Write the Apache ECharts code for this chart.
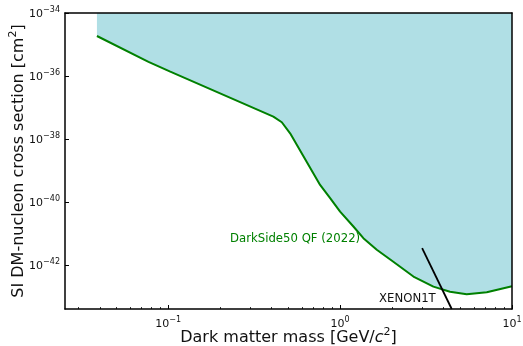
<!DOCTYPE html>
<html>
<head>
<meta charset="utf-8">
<script src="https://cdn.jsdelivr.net/npm/echarts@6/dist/echarts.min.js"></script>
<style>
  html, body { margin: 0; padding: 0; background: #ffffff; }
  #chart { width: 523px; height: 346px; }
</style>
</head>
<body>
<div id="chart"></div>
<script>
// DarkSide-50 spin-independent limit (QF), mass in GeV/c^2, cross section in cm^2
const dsMass  = [0.0385, 0.0768, 0.1028, 0.409, 0.458, 0.512, 0.765, 0.875, 1.0, 1.195, 1.366, 1.634, 2.04, 2.67, 3.49, 4.36, 5.45, 7.13, 10];
const dsSigma = [1.86e-35, 2.82e-36, 1.38e-36, 5.13e-38, 3.39e-38, 1.51e-38, 3.47e-40, 1.32e-40, 4.9e-41, 1.66e-41, 7.08e-42, 3.02e-42, 1.26e-42, 4.27e-43, 2.04e-43, 1.41e-43, 1.17e-43, 1.35e-43, 2.1e-43];

// XENON1T limit segment
const xeMass  = [3.0, 4.46];
const xeSigma = [3.39e-42, 3.98e-44];

// Axis ranges and ticks (cross sections handled as decades, log10 of cm^2)
const xRange = [0.0251, 10];
const yDecadeRange = [-43.4, -34];
const xMajorTicks = [0.1, 1, 10];
const xMinorTicks = [0.03, 0.04, 0.05, 0.06, 0.07, 0.08, 0.09,
                     0.2, 0.3, 0.4, 0.5, 0.6, 0.7, 0.8, 0.9,
                     2, 3, 4, 5, 6, 7, 8, 9];
const yMajorDecades = [-42, -40, -38, -36, -34];

// Curve annotations: [mass, cross section, text]
const dsLabel = [0.229, 6.8e-42, 'DarkSide50 QF (2022)'];
const xeLabel = [3.6, 8.3e-44, 'XENON1T'];

const FONT = 'DejaVu Sans';
const INK = '#111111';

// cross sections spread over ten decades: place them on a decade (log10) value axis
function toPoints(xs, ys) { return xs.map((x, i) => [x, Math.log10(ys[i])]); }

function supLabel(e) {
  return '{b|10}{e|' + (e < 0 ? '\u2212' + (-e) : String(e)) + '}';
}
const powRich = {
  b: { fontFamily: FONT, fontSize: 11, color: INK, lineHeight: 14, verticalAlign: 'bottom' },
  e: { fontFamily: FONT, fontSize: 8, color: INK, lineHeight: 9, verticalAlign: 'top' }
};
const titleRich = {
  n: { fontFamily: FONT, fontSize: 16, color: INK, lineHeight: 19, verticalAlign: 'bottom' },
  i: { fontFamily: FONT, fontSize: 16, fontStyle: 'italic', color: INK, lineHeight: 19, verticalAlign: 'bottom' },
  s: { fontFamily: FONT, fontSize: 11, color: INK, lineHeight: 12, verticalAlign: 'top' }
};

const spine = { show: true, lineStyle: { color: '#000', width: 1.5 } };
const noSplit = { show: false };

const chart = echarts.init(document.getElementById('chart'), null, { renderer: 'canvas' });
chart.setOption({
  animation: false,
  backgroundColor: '#ffffff',
  grid: { left: 65, right: 11, top: 13, bottom: 37, containLabel: false, outerBoundsMode: 'none' },
  xAxis: [
    {
      type: 'log', min: xRange[0], max: xRange[1], position: 'bottom', z: 5,
      axisLine: spine,
      axisTick: { show: true, inside: true, length: 4, customValues: xMajorTicks, lineStyle: { color: '#000', width: 1 } },
      axisLabel: { customValues: xMajorTicks, formatter: v => supLabel(Math.round(Math.log10(v))), rich: powRich, margin: 7 },
      splitLine: noSplit,
      name: '{n|Dark matter mass [GeV/}{i|c}{s|2}{n|]}',
      nameLocation: 'middle', nameGap: 18, nameMoveOverlap: false,
      nameTextStyle: { rich: titleRich }
    },
    {
      type: 'log', min: xRange[0], max: xRange[1], position: 'bottom', z: 5,
      axisLine: { show: false },
      axisTick: { show: true, inside: true, length: 2, customValues: xMinorTicks, lineStyle: { color: '#000', width: 0.8 } },
      axisLabel: { show: false },
      splitLine: noSplit
    },
    {
      type: 'log', min: xRange[0], max: xRange[1], position: 'top', z: 5,
      axisLine: spine, axisTick: { show: false }, axisLabel: { show: false }, splitLine: noSplit
    }
  ],
  yAxis: [
    {
      type: 'value', min: yDecadeRange[0], max: yDecadeRange[1], position: 'left', z: 5,
      axisLine: spine,
      axisTick: { show: true, inside: true, length: 4, customValues: yMajorDecades, lineStyle: { color: '#000', width: 1 } },
      axisLabel: { customValues: yMajorDecades, formatter: v => supLabel(Math.round(v)), rich: powRich, margin: 5 },
      splitLine: noSplit,
      name: '{n|SI DM-nucleon cross section [cm}{s|2}{n|]}',
      nameLocation: 'middle', nameGap: 38, nameRotate: 90, nameMoveOverlap: false,
      nameTextStyle: { rich: titleRich }
    },
    {
      type: 'value', min: yDecadeRange[0], max: yDecadeRange[1], position: 'right', z: 5,
      axisLine: spine, axisTick: { show: false }, axisLabel: { show: false }, splitLine: noSplit
    }
  ],
  series: [
    {
      name: 'DarkSide50 QF (2022)',
      type: 'line',
      xAxisIndex: 0, yAxisIndex: 0,
      data: toPoints(dsMass, dsSigma),
      showSymbol: false, symbol: 'none',
      lineStyle: { color: '#008000', width: 2 },
      areaStyle: { color: '#b0dfe5', opacity: 1, origin: 'end' },
      z: 2,
      markPoint: {
        symbol: 'circle', symbolSize: 0,
        label: { show: true, position: 'right', distance: 0, color: '#008000', fontFamily: FONT, fontSize: 11.7, formatter: '{b}' },
        data: [{ name: dsLabel[2], coord: [dsLabel[0], Math.log10(dsLabel[1])] }]
      }
    },
    {
      name: 'XENON1T',
      type: 'line',
      xAxisIndex: 0, yAxisIndex: 0,
      data: toPoints(xeMass, xeSigma),
      showSymbol: false, symbol: 'none',
      lineStyle: { color: '#000000', width: 1.8 },
      z: 3,
      markPoint: {
        symbol: 'circle', symbolSize: 0,
        label: { show: true, position: 'left', distance: 0, color: INK, fontFamily: FONT, fontSize: 11.7, formatter: '{b}' },
        data: [{ name: xeLabel[2], coord: [xeLabel[0], Math.log10(xeLabel[1])] }]
      }
    }
  ]
});
</script>
</body>
</html>
